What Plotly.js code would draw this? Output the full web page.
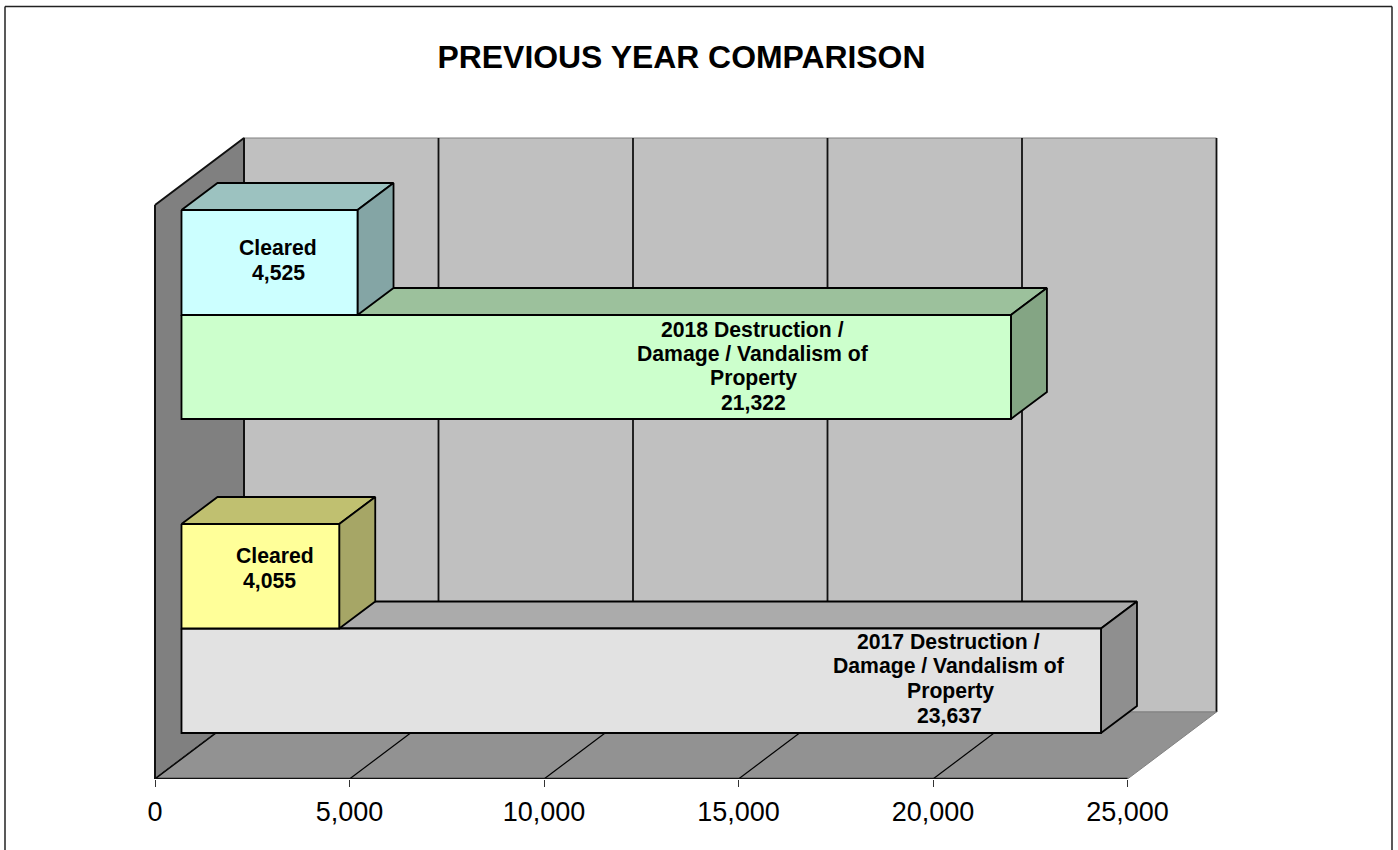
<!DOCTYPE html>
<html>
<head>
<meta charset="utf-8">
<script src="https://cdn.plot.ly/plotly-3.0.1.min.js"></script>
<style>html,body{margin:0;padding:0;background:#fff;overflow:hidden}#chart{width:1398px;height:850px}</style>
</head>
<body>
<div id="chart"></div>
<script>
// ---- data ----
const chartTitle = "PREVIOUS YEAR COMPARISON";
const tickValues = [0, 5000, 10000, 15000, 20000, 25000];
const tickLabels = ["0", "5,000", "10,000", "15,000", "20,000", "25,000"];
const offenceValues = [21322, 23637];
const clearedValues = [4525, 4055];
const offenceLabels = [
  ["2018 Destruction /", "Damage / Vandalism of", "Property", "21,322"],
  ["2017 Destruction /", "Damage / Vandalism of", "Property", "23,637"]
];
const clearedLabels = [["Cleared", "4,525"], ["Cleared", "4,055"]];

// ---- styles ----
const offenceFaces = [
  {front: "#CCFFCC", top: "#9CC19C", side: "#84A584"},
  {front: "#E2E2E2", top: "#ABABAB", side: "#8F8F8F"}
];
const clearedFaces = [
  {front: "#CCFFFF", top: "#9CC2C0", side: "#84A5A5"},
  {front: "#FFFF99", top: "#C0C070", side: "#A6A666"}
];

// ---- 3-D projection of the plot box (value axis in data units, y axis in layout units) ----
const unitPerPx = 1 / 0.0389;
const boxDepthX = 89 * unitPerPx, boxDepthY = 67;
const barDepthX = 36 * unitPerPx, barDepthY = 27;
const barOriginX = 26.5 * unitPerPx;
const floorY = 779, wallTopY = 138;
const axisMax = tickValues[tickValues.length - 1];
const rows = [
  {clearedTop: 210, joint: 315, bottom: 419},
  {clearedTop: 524, joint: 628.5, bottom: 733}
];
const offenceLabelPlace = [
  {x: [752, 753, 753, 753], y: [329, 354, 378, 402]},
  {x: [948, 949, 950, 949], y: [641, 666, 691, 715]}
];
const clearedLabelPlace = [
  {x: [278, 278], y: [247, 272]},
  {x: [275, 269], y: [555, 580]}
];
const pxToVal = p => (p - 155) * unitPerPx;

const traces = [];
function poly(xs, ys, fill, lineColor, lineWidth) {
  traces.push({
    type: "scatter", mode: "lines", x: xs.concat(xs[0]), y: ys.concat(ys[0]),
    fill: "toself", fillcolor: fill, line: {color: lineColor, width: lineWidth},
    cliponaxis: false, showlegend: false, hoverinfo: "skip"
  });
}
function seg(xs, ys, color, width) {
  traces.push({
    type: "scatter", mode: "lines", x: xs, y: ys, line: {color: color, width: width},
    cliponaxis: false, showlegend: false, hoverinfo: "skip"
  });
}
function box(value, top, bottom, faces) {
  const x0 = barOriginX, x1 = barOriginX + value;
  poly([x0, x0 + barDepthX, x1 + barDepthX, x1], [top, top - barDepthY, top - barDepthY, top], faces.top, "#000", 1.8);
  poly([x1, x1 + barDepthX, x1 + barDepthX, x1], [top, top - barDepthY, bottom - barDepthY, bottom], faces.side, "#000", 1.8);
  poly([x0, x1, x1, x0], [top, top, bottom, bottom], faces.front, "#000", 1.8);
}

// back wall, side wall
poly([boxDepthX, axisMax + boxDepthX, axisMax + boxDepthX, boxDepthX],
     [wallTopY, wallTopY, floorY - boxDepthY, floorY - boxDepthY], "#C0C0C0", "#808080", 1);
poly([0, boxDepthX, boxDepthX, 0],
     [wallTopY + boxDepthY, wallTopY, floorY - boxDepthY, floorY],
     "#808080", "#111111", 2);
// wall grid lines
tickValues.forEach(v => {
  if (v > 0) seg([v + boxDepthX, v + boxDepthX], [wallTopY, floorY - boxDepthY], "#111111", 1.8);
});
// floor
poly([0, boxDepthX, axisMax + boxDepthX, axisMax], [floorY, floorY - boxDepthY, floorY - boxDepthY, floorY], "#929292", "#808080", 1);
tickValues.forEach(v => {
  if (v < axisMax) seg([v, v + boxDepthX], [floorY, floorY - boxDepthY], "#000000", 1.2);
});
seg([0, axisMax], [floorY, floorY], "#111111", 2.5);

// bars
offenceValues.forEach((v, i) => {
  box(v, rows[i].joint, rows[i].bottom, offenceFaces[i]);
  box(clearedValues[i], rows[i].clearedTop, rows[i].joint, clearedFaces[i]);
});

// data labels
const annotations = [];
function addLabels(lines, place) {
  lines.forEach((t, k) => annotations.push({
    xref: "x", yref: "y", x: pxToVal(place.x[k]), y: place.y[k], text: t, showarrow: false,
    xanchor: "center", yanchor: "middle",
    font: {family: "Liberation Sans, Arial, sans-serif", size: 21.2, color: "#000", weight: 700}
  }));
}
offenceLabels.forEach((l, i) => addLabels(l, offenceLabelPlace[i]));
clearedLabels.forEach((l, i) => addLabels(l, clearedLabelPlace[i]));

const H = 779;
const border = {color: "#222222", width: 1.5};
const layout = {
  width: 1398, height: 850,
  margin: {l: 0, r: 0, t: 0, b: 71, pad: 0},
  paper_bgcolor: "#fff", plot_bgcolor: "#fff",
  hovermode: false, showlegend: false,
  font: {family: "Liberation Sans, Arial, sans-serif", color: "#000"},
  title: {
    text: chartTitle, xref: "paper", yref: "paper", x: 681.5 / 1398, xanchor: "center",
    y: 1 - 57 / 779, yanchor: "middle",
    font: {family: "Liberation Sans, Arial, sans-serif", size: 31.9, color: "#000", weight: 700}
  },
  xaxis: {
    range: [pxToVal(0), pxToVal(1398)],
    tickmode: "array", tickvals: tickValues, ticktext: tickLabels,
    ticks: "outside", ticklen: 7, tickwidth: 1, tickcolor: "#333", ticklabelstandoff: 2,
    tickfont: {family: "Liberation Sans, Arial, sans-serif", size: 27, color: "#000"},
    showgrid: false, zeroline: false, showline: false, fixedrange: true
  },
  yaxis: {range: [H, 0], visible: false, fixedrange: true},
  annotations: annotations,
  shapes: [
    {type: "line", xref: "paper", yref: "paper", x0: 5 / 1398, x1: 5 / 1398, y0: -71 / H, y1: 1 - 6.5 / H, line: border},
    {type: "line", xref: "paper", yref: "paper", x0: 5 / 1398, x1: 1392 / 1398, y0: 1 - 6.5 / H, y1: 1 - 6.5 / H, line: border},
    {type: "line", xref: "paper", yref: "paper", x0: 1392 / 1398, x1: 1392 / 1398, y0: -71 / H, y1: 1 - 6.5 / H, line: border}
  ]
};
Plotly.newPlot("chart", traces, layout, {displayModeBar: false, staticPlot: true});
</script>
</body>
</html>
